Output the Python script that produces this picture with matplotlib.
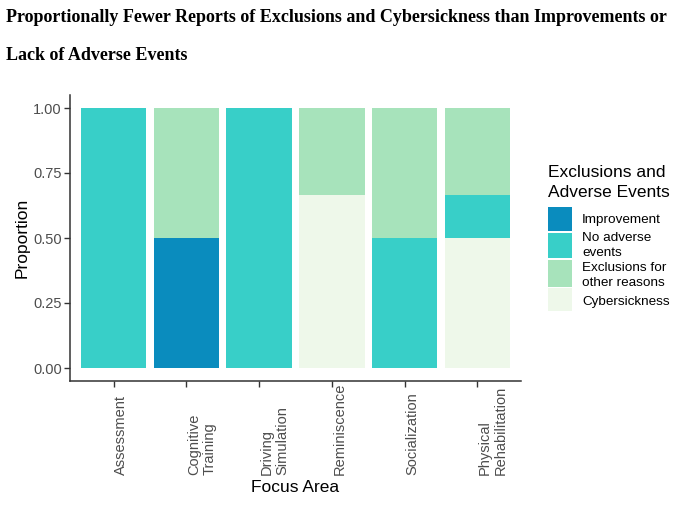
import matplotlib
matplotlib.use("Agg")
import matplotlib.pyplot as plt
from matplotlib.patches import Rectangle
import numpy as np

categories = ["Assessment", "Cognitive\nTraining", "Driving\nSimulation",
              "Reminiscence", "Socialization", "Physical\nRehabilitation"]
# proportions per category for each event type
improvement   = [0.0, 0.5, 0.0, 0.0,   0.0, 0.0]
cybersickness = [0.0, 0.0, 0.0, 0.667, 0.0, 0.5]
no_adverse    = [1.0, 0.0, 1.0, 0.0,   0.5, 0.167]
exclusions    = [0.0, 0.5, 0.0, 0.333, 0.5, 0.333]
y_ticks = [0.0, 0.25, 0.50, 0.75, 1.00]
y_tick_labels = ["0.00", "0.25", "0.50", "0.75", "1.00"]

legend_labels = ["Improvement", "No adverse\nevents", "Exclusions for\nother reasons", "Cybersickness"]
colors = {"imp": "#0A8CBE", "no": "#38CFC8", "exc": "#A7E3BB", "cyb": "#EEF8EA"}

W, H = 678, 514
fig = plt.figure(figsize=(W / 100, H / 100), dpi=100)
ax = fig.add_axes([70 / W, 1 - 381 / H, 451 / W, 286 / H])

x = np.arange(len(categories))
stack_order = [(improvement, colors["imp"]), (cybersickness, colors["cyb"]),
               (no_adverse, colors["no"]), (exclusions, colors["exc"])]
bottom = np.zeros(len(categories))
for vals, col in stack_order:
    v = np.array(vals)
    ax.bar(x, v, bottom=bottom, width=0.9, color=col, linewidth=0)
    bottom += v

ax.set_xlim(-0.6, len(categories) - 0.4)
ax.set_ylim(-0.05, 1.05)
ax.set_yticks(y_ticks)
ax.set_yticklabels(y_tick_labels, fontsize=10.5, color="#4D4D4D", family="Liberation Sans")
ax.set_xticks(x)
ax.set_xticklabels([])
for xi, lab in zip(x, categories):
    ax.text(xi + 0.01, -0.329, lab, transform=ax.get_xaxis_transform(), rotation=90,
            ha="left", va="bottom", fontsize=10.5, color="#4D4D4D",
            family="Liberation Sans", linespacing=1.12)
for s in ["top", "right"]:
    ax.spines[s].set_visible(False)
for s in ["left", "bottom"]:
    ax.spines[s].set_color("#333333")
    ax.spines[s].set_linewidth(1.1)
ax.tick_params(axis="both", length=4, color="#333333", width=1.0, pad=2)

fig.text(295 / W, 1 - 487 / H, "Focus Area", ha="center", va="center",
         fontsize=12.5, family="Liberation Sans", color="black")
fig.text(22 / W, 1 - 238 / H, "Proportion", ha="center", va="center", rotation=90,
         fontsize=12.5, family="Liberation Sans", color="black")

# title
fig.text(6 / W, 1 - 18 / H,
         "Proportionally Fewer Reports of Exclusions and Cybersickness than Improvements or",
         ha="left", va="center", fontsize=13.0, fontweight="bold", family="Liberation Serif")
fig.text(6 / W, 1 - 55 / H, "Lack of Adverse Events",
         ha="left", va="center", fontsize=13.0, fontweight="bold", family="Liberation Serif")

# legend (manual, ggplot-like)
fig.text(548 / W, 1 - 182.5 / H, "Exclusions and\nAdverse Events", ha="left", va="center",
         fontsize=12.5, family="Liberation Sans", linespacing=1.35)
key_cols = [colors["imp"], colors["no"], colors["exc"], colors["cyb"]]
key_tops = [207, 233, 260, 288]
key_bots = [231, 258, 287, 311]
label_y = [220, 245.5, 275.5, 302]
for lab, col, kt, kb, ly in zip(legend_labels, key_cols, key_tops, key_bots, label_y):
    fig.add_artist(Rectangle((548 / W, 1 - kb / H), 24 / W, (kb - kt) / H,
                             transform=fig.transFigure, facecolor=col, edgecolor="none"))
    fig.text(582 / W, 1 - ly / H, lab, ha="left", va="center", fontsize=9.7,
             family="Liberation Sans", linespacing=1.25)

fig.savefig("out.png", dpi=100)
